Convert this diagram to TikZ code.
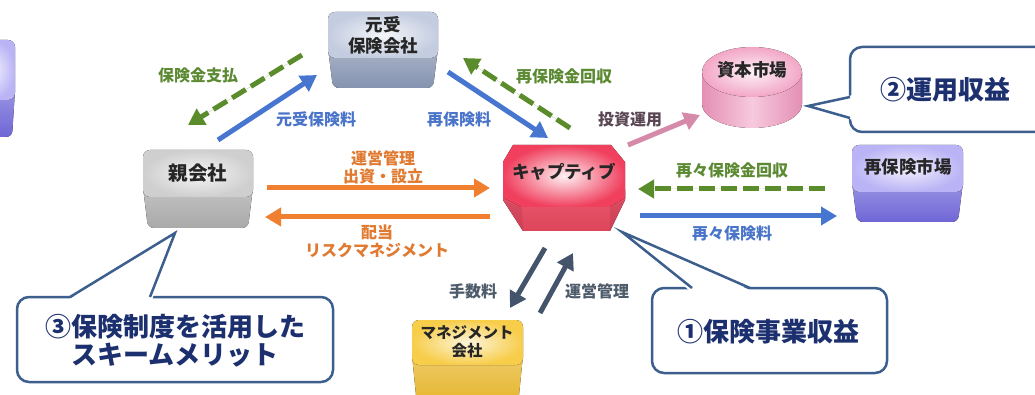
\documentclass[tikz,border=0pt]{standalone}
\usepackage{fontspec}
\setmainfont{Noto Sans CJK JP}
\usetikzlibrary{arrows.meta}
\definecolor{gArr}{HTML}{5A8C2C}
\definecolor{bArr}{HTML}{4676D0}
\definecolor{oArr}{HTML}{F08030}
\definecolor{pArr}{HTML}{D58AA9}
\definecolor{sArr}{HTML}{44546A}
\definecolor{gTxt}{HTML}{5C8A33}
\definecolor{bTxt}{HTML}{4A74C9}
\definecolor{oTxt}{HTML}{E07A30}
\definecolor{pTxt}{HTML}{5A4652}
\definecolor{sTxt}{HTML}{4D5B6B}
\definecolor{coLine}{HTML}{3D5F8E}
\definecolor{coNavy}{HTML}{1C2F6E}
\definecolor{mkL}{HTML}{C4CDE0}\definecolor{mkD}{HTML}{8593B0}
\definecolor{oyL}{HTML}{CFCFCF}\definecolor{oyD}{HTML}{A9A9A9}
\definecolor{rmL}{HTML}{BAB3F5}\definecolor{rmD}{HTML}{6F66D6}
\definecolor{mgL}{HTML}{F7CD4A}\definecolor{mgD}{HTML}{E6B52A}
\definecolor{cpL}{HTML}{F0405E}\definecolor{cpD}{HTML}{E8485F}
\definecolor{kpL}{HTML}{F2A6C6}\definecolor{kpD}{HTML}{E48FB4}
\newcommand\cubebox[7]{%
  \fill[rounded corners=6pt, top color=#7!70!white, bottom color=#7] (#1,{#4-10}) -- (#3,{#4-10}) -- ({#3-5},#5) -- ({#1+5},#5) -- cycle;
  \fill[rounded corners=7pt, inner color=#6!20!white, outer color=#6] (#1,#2) rectangle (#3,#4);
}
\tikzset{
  lbl/.style={font=\bfseries\fontsize{16}{18}\selectfont, inner sep=0pt},
  boxlbl/.style={font=\bfseries\fontsize{17.5}{21}\selectfont, align=center, inner sep=0pt, text=black!85},
  arr/.style={line width=5pt, -{Triangle[length=16pt,width=18pt]}},
  dsh/.style={arr, dash pattern=on 16pt off 6pt},
  co/.style={draw=coLine, line width=2.5pt, fill=white},
  coln/.style={draw=coLine, line width=2.5pt, line join=miter},
  cotext/.style={font=\bfseries\fontsize{26}{28}\selectfont, text=coNavy, align=center, inner sep=0pt},
}
\begin{document}
\begin{tikzpicture}[x=1pt,y=-1pt]
\useasboundingbox (0,0) rectangle (1035,395);
\fill[white] (0,0) rectangle (1035,395);

% left partial box
\fill[rounded corners=6pt, top color=rmD!70!white, bottom color=rmD] (-30,90) -- (15,90) -- (12,137) -- (-30,137) -- cycle;
\fill[rounded corners=7pt, inner color=rmL!20!white, outer color=rmL] (-30,40) rectangle (15,100);

% boxes
\cubebox{328}{12}{438}{58}{88}{mkL}{mkD}
\node[boxlbl] (motouke) at (383,35) {元受\\保険会社};

\cubebox{143}{150}{253}{197}{228}{oyL}{oyD}
\node[boxlbl, font=\bfseries\fontsize{19.5}{22}\selectfont] (oya) at (198,173) {親会社};

\cubebox{852}{145}{963}{192}{222}{rmL}{rmD}
\node[boxlbl] (saiho) at (908,167) {再保険市場};

\cubebox{412}{320}{523}{365}{405}{mgL}{mgD}
\node[boxlbl, font=\bfseries\fontsize{15.5}{18.5}\selectfont] (mgmt) at (467,342) {マネジメント\\会社};

% captive octagon
\fill[top color=cpD!90!white, bottom color=cpD!95!black] (503,190) -- (625,190) -- (625,200) -- (610,231) -- (523,231) -- (503,200) -- cycle;
\fill[cpD!70!black, opacity=0.25] (503,200) -- (522,208) -- (523,231) -- cycle;
\fill[cpD!70!black, opacity=0.25] (625,200) -- (610,208) -- (610,231) -- cycle;
\fill[inner color=cpL!8!white, outer color=cpL] (513,145) -- (611,145) -- (625,162) -- (625,198) -- (610,207) -- (521,207) -- (503,198) -- (503,162) -- cycle;
\node[boxlbl] (cap) at (564,172) {キャプティブ};

% capital market cylinder
\fill[left color=kpD, right color=kpD, middle color=kpL!60!white] (702,72) -- (702,104) arc[start angle=180, end angle=0, x radius=50, y radius=24] -- (802,72) -- cycle;
\fill[inner color=kpL!15!white, outer color=kpL] (752,72) ellipse [x radius=50, y radius=25];
\node[boxlbl] (shihon) at (752,70) {資本市場};

% arrow coordinates
\coordinate (a1s) at (302,55);  \coordinate (a1e) at (188,125);
\coordinate (a2s) at (218,140); \coordinate (a2e) at (317,75);
\coordinate (a3s) at (448,72);  \coordinate (a3e) at (548,138);
\coordinate (a4s) at (570,128); \coordinate (a4e) at (463,58);
\coordinate (a5s) at (628,145); \coordinate (a5e) at (700,115);
\coordinate (a6s) at (267,188); \coordinate (a6e) at (490,188);
\coordinate (a7s) at (490,217); \coordinate (a7e) at (265,217);
\coordinate (a8s) at (825,189); \coordinate (a8e) at (638,189);
\coordinate (a9s) at (640,216); \coordinate (a9e) at (837,216);
\coordinate (a10s) at (545,248); \coordinate (a10e) at (510,308);
\coordinate (a11s) at (540,313); \coordinate (a11e) at (573,253);

\draw[dsh, draw=gArr, fill=gArr] (a1s) -- (a1e);
\draw[arr, draw=bArr, fill=bArr] (a2s) -- (a2e);
\draw[arr, draw=bArr, fill=bArr] (a3s) -- (a3e);
\draw[dsh, draw=gArr, fill=gArr] (a4s) -- (a4e);
\draw[arr, draw=pArr, fill=pArr] (a5s) -- (a5e);
\draw[arr, draw=oArr, fill=oArr] (a6s) -- (a6e);
\draw[arr, draw=oArr, fill=oArr] (a7s) -- (a7e);
\draw[dsh, draw=gArr, fill=gArr] (a8s) -- (a8e);
\draw[arr, draw=bArr, fill=bArr] (a9s) -- (a9e);
\draw[arr, draw=sArr, fill=sArr] (a10s) -- (a10e);
\draw[arr, draw=sArr, fill=sArr] (a11s) -- (a11e);

% labels
\node[lbl, text=gTxt] (l1) at (198,75) {保険金支払};
\node[lbl, text=bTxt] (l2) at (316,119) {元受保険料};
\node[lbl, text=bTxt] (l3) at (459,119) {再保険料};
\node[lbl, text=gTxt] (l4) at (564,76) {再保険金回収};
\node[lbl, text=pTxt] (l5) at (630,119) {投資運用};
\node[lbl, text=oTxt, align=center] (l6) at (383,167) {運営管理\\出資・設立};
\node[lbl, text=oTxt, align=center] (l7) at (377,241) {配当\\リスクマネジメント};
\node[lbl, text=gTxt] (l8) at (732,170) {再々保険金回収};
\node[lbl, text=bTxt] (l9) at (732,233) {再々保険料};
\node[lbl, text=sTxt] (l10) at (473,291) {手数料};
\node[lbl, text=sTxt] (l11) at (597,291) {運営管理};

% callout 2
\draw[co, rounded corners=12pt] (850,47) rectangle (1060,132);
\fill[white] (808,106) -- (853,95) -- (853,120) -- cycle;
\coordinate (c2a) at (850,97); \coordinate (c2t) at (808,106); \coordinate (c2b) at (850,118);
\draw[coln] (c2a) -- (c2t) -- (c2b);
\node[cotext] (co2) at (945,90) {②運用収益};

% callout 1
\draw[co, rounded corners=12pt] (652,288) rectangle (887,373);
\fill[white] (622,232) -- (690,291) -- (752,291) -- cycle;
\coordinate (c1a) at (692,288); \coordinate (c1t) at (622,232); \coordinate (c1b) at (750,288);
\draw[coln] (c1a) -- (c1t) -- (c1b);
\node[cotext] (co1) at (768,332) {①保険事業収益};

% callout 3
\draw[co, rounded corners=12pt] (17,297) rectangle (333,382);
\fill[white] (175,233) -- (68,300) -- (152,300) -- cycle;
\coordinate (c3a) at (70,297); \coordinate (c3t) at (175,233); \coordinate (c3b) at (150,297);
\draw[coln] (c3a) -- (c3t) -- (c3b);
\node[cotext] (co3) at (175,341) {③保険制度を活用した\\スキームメリット};
\end{tikzpicture}
\end{document}
